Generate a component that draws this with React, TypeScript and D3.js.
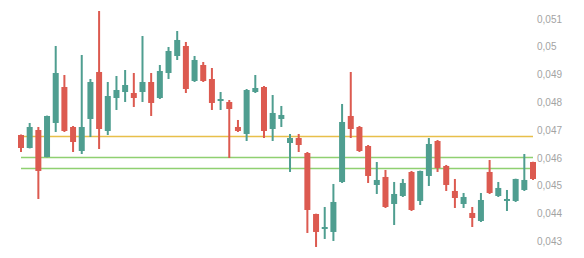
import React from "react";
import * as d3 from "d3";

// Candle data (values in units of 0.001)
const opens = [46.833,46.365,47.013,46.041,47.265,48.560,47.121,46.257,47.409,49.100,46.977,48.164,48.380,48.344,48.380,48.740,48.164,49.064,49.676,50.036,48.776,49.352,48.848,48.057,48.021,47.121,46.869,48.380,48.560,47.049,47.409,46.545,46.725,46.185,43.990,43.451,43.343,45.142,47.517,47.121,46.437,45.034,45.322,44.350,44.638,45.502,44.458,45.358,46.617,45.718,44.818,44.350,44.026,43.738,45.502,44.638,44.458,44.458,44.854,45.861];
const highs = [46.850,47.265,47.121,47.530,50.036,48.992,47.157,49.712,48.848,51.295,48.740,48.956,49.172,49.064,50.395,49.064,49.352,50.000,50.575,50.180,49.676,49.460,49.244,48.380,48.092,47.373,48.488,48.992,48.596,48.272,47.877,46.869,46.869,46.221,44.000,44.242,45.070,47.949,49.100,47.157,46.473,45.861,45.574,45.142,45.250,45.538,45.550,46.725,46.653,45.754,45.250,44.746,44.242,44.746,45.933,45.142,44.854,45.260,46.149,45.870];
const lows = [46.221,46.350,44.530,46.030,46.941,46.941,46.221,46.149,46.761,46.329,46.833,47.733,48.021,47.841,48.021,47.517,48.128,48.848,49.532,48.344,48.740,48.740,47.733,47.733,46.005,46.941,46.617,48.344,46.725,46.617,47.121,45.502,46.221,43.307,42.803,43.091,43.019,45.106,46.725,46.221,45.106,44.710,44.206,43.594,44.602,44.098,44.314,44.998,45.502,44.818,44.206,44.206,43.522,43.702,44.710,44.602,44.098,44.422,44.818,45.214];
const closes = [46.365,47.121,45.538,47.517,49.064,46.977,46.581,47.121,48.740,47.049,48.236,48.452,48.632,48.164,48.740,47.985,49.136,49.856,50.252,48.488,49.532,48.776,47.985,48.128,47.769,46.977,48.452,48.524,46.977,47.625,47.553,46.725,46.473,44.134,43.343,43.522,44.422,47.301,47.049,46.257,45.358,45.214,44.242,44.710,45.106,44.134,45.538,46.509,45.646,45.034,44.566,44.602,43.846,44.494,44.746,44.926,44.530,45.250,45.214,45.250];

const yTicks = [0.043, 0.044, 0.045, 0.046, 0.047, 0.048, 0.049, 0.05, 0.051];
const tickLabels = ["0,043", "0,044", "0,045", "0,046", "0,047", "0,048", "0,049", "0,05", "0,051"];

const levelValues = [0.046786, 0.046041, 0.045635];
const levelColors = ["#e8bf4a", "#8fd071", "#8fd071"];

const UP = "#4f9e90";
const DOWN = "#dc5a50";

export default function App() {
  const W = 584, H = 258;
  const idx = d3.range(opens.length);
  const x = d3.scalePoint<number>().domain(idx).range([21, 533]);
  const y = d3.scaleLinear().domain([0.043, 0.051]).range([241.5, 19.2]);
  const bodyW = 6;

  return (
    <svg width={W} height={H} style={{ position: "absolute", left: 0, top: 0, background: "#fff" }}>
      {levelValues.map((v, i) => (
        <line key={"l" + i} x1={21} x2={533} y1={Math.round(y(v)) + 0.5} y2={Math.round(y(v)) + 0.5}
          stroke={levelColors[i]} strokeWidth={1.3} />
      ))}
      {idx.map((i) => {
        const o = opens[i] / 1000, c = closes[i] / 1000, h = highs[i] / 1000, l = lows[i] / 1000;
        const up = c >= o;
        const col = up ? UP : DOWN;
        const cx = x(i)!;
        const top = y(Math.max(o, c));
        const bot = y(Math.min(o, c));
        return (
          <g key={i}>
            <rect x={cx - 1} y={y(h)} width={2} height={Math.max(0, y(l) - y(h))} fill={col} />
            <rect x={cx - bodyW / 2} y={top} width={bodyW} height={Math.max(2, bot - top)} fill={col} />
          </g>
        );
      })}
      {yTicks.map((t, i) => (
        <text key={"t" + i} x={537} y={y(t)} dominantBaseline="central" fontSize={10}
          fontFamily="'Liberation Sans', Arial, sans-serif" fill="#a3a3a3">
          {tickLabels[i]}
        </text>
      ))}
    </svg>
  );
}
